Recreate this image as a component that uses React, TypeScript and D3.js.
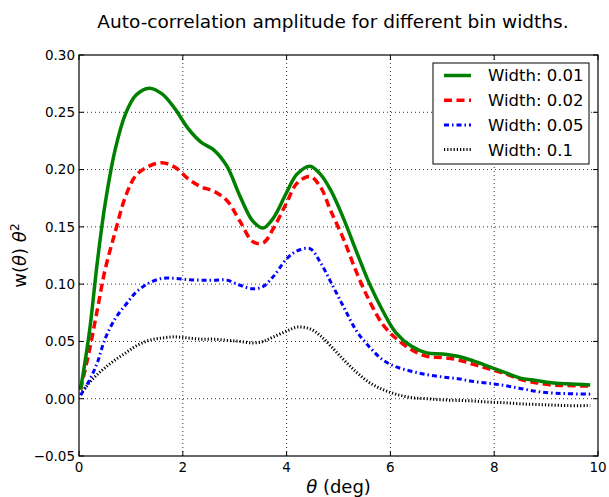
import { useEffect, useRef } from "react";
import * as d3 from "d3";

// theta grid (deg) shared by all series
const theta = [
    0.03, 0.2, 0.35, 0.5, 0.7, 0.9, 1.1, 1.35, 1.6, 1.85, 2.1, 2.35, 2.6, 2.85,
    3.1, 3.35, 3.55, 3.75, 4.0, 4.2, 4.45, 4.65, 4.85, 5.1, 5.35, 5.6, 5.85,
    6.1, 6.4, 6.7, 7.0, 7.3, 7.6, 7.9, 8.2, 8.5, 8.8, 9.1, 9.4, 9.85,
];

const width001 = [
    0.008, 0.058, 0.118, 0.169, 0.218, 0.249, 0.265, 0.271, 0.266, 0.253, 0.236,
    0.224, 0.217, 0.203, 0.177, 0.155, 0.149, 0.158, 0.18, 0.196, 0.203, 0.196,
    0.182, 0.157, 0.128, 0.1, 0.077, 0.058, 0.046, 0.04, 0.039, 0.037, 0.033,
    0.028, 0.023, 0.018, 0.016, 0.014, 0.013, 0.012,
];

const width002 = [
    0.008, 0.042, 0.077, 0.112, 0.146, 0.177, 0.195, 0.203, 0.206, 0.202, 0.192,
    0.185, 0.181, 0.173, 0.155, 0.137, 0.136, 0.149, 0.171, 0.188, 0.194, 0.185,
    0.164, 0.139, 0.11, 0.085, 0.065, 0.053, 0.043, 0.037, 0.036, 0.034, 0.03,
    0.026, 0.022, 0.017, 0.014, 0.012, 0.0115, 0.011,
];

const width005 = [
    0.003, 0.016, 0.031, 0.052, 0.07, 0.082, 0.093, 0.101, 0.105, 0.105, 0.104,
    0.1035, 0.1035, 0.1035, 0.099, 0.096, 0.098, 0.107, 0.122, 0.129, 0.131,
    0.119, 0.102, 0.08, 0.059, 0.045, 0.034, 0.028, 0.024, 0.021, 0.019, 0.0175,
    0.015, 0.0135, 0.0115, 0.009, 0.0065, 0.005, 0.0044, 0.004,
];

const width01 = [
    0.004, 0.014, 0.021, 0.027, 0.034, 0.04, 0.046, 0.051, 0.053, 0.054, 0.053,
    0.052, 0.052, 0.051, 0.05, 0.0487, 0.05, 0.054, 0.059, 0.0625, 0.061, 0.055,
    0.046, 0.034, 0.023, 0.014, 0.008, 0.004, 0.001, 0.0, -0.001, -0.0015,
    -0.002, -0.003, -0.0035, -0.0045, -0.005, -0.0055, -0.006, -0.006,
];

const seriesNames = ["Width: 0.01", "Width: 0.02", "Width: 0.05", "Width: 0.1"];
const xTicks = [0, 2, 4, 6, 8, 10];
const yTicks = [-0.05, 0.0, 0.05, 0.1, 0.15, 0.2, 0.25, 0.3];

const styles = [
    { color: "#008000", dash: "", lw: 3.5 },
    { color: "#ff0000", dash: "8,4.5", lw: 3.5 },
    { color: "#0000ff", dash: "5,3,1.5,3", lw: 3 },
    { color: "#000000", dash: "1.2,2", lw: 3 },
];

export default function App() {
    const svgRef = useRef<SVGSVGElement>(null);

    useEffect(() => {
        if (!svgRef.current) return;
        const width = 609;
        const height = 497;
        const margin = { top: 55, right: 11, bottom: 41, left: 79 };
        const font = "DejaVu Sans, sans-serif";

        const svg = d3.select(svgRef.current);
        svg.selectAll("*").remove();
        svg.attr("width", width).attr("height", height);

        const x = d3
            .scaleLinear()
            .domain([0, 10])
            .range([margin.left, width - margin.right]);
        const y = d3
            .scaleLinear()
            .domain([-0.05, 0.3])
            .range([height - margin.bottom, margin.top]);

        svg.append("rect")
            .attr("width", width)
            .attr("height", height)
            .attr("fill", "#fff");

        // grid
        const grid = svg.append("g");
        grid.selectAll(".gx")
            .data(xTicks.slice(1, -1))
            .enter()
            .append("line")
            .attr("x1", (d) => x(d))
            .attr("x2", (d) => x(d))
            .attr("y1", y(-0.05))
            .attr("y2", y(0.3))
            .attr("stroke", "#000")
            .attr("stroke-width", 0.8)
            .attr("stroke-dasharray", "1,3");
        grid.selectAll(".gy")
            .data(yTicks.slice(1, -1))
            .enter()
            .append("line")
            .attr("x1", x(0))
            .attr("x2", x(10))
            .attr("y1", (d) => y(d))
            .attr("y2", (d) => y(d))
            .attr("stroke", "#000")
            .attr("stroke-width", 0.8)
            .attr("stroke-dasharray", "1,3");

        // curves
        const allSeries = [width001, width002, width005, width01];
        const line = d3
            .line<number>()
            .x((d, i) => x(theta[i]))
            .y((d) => y(d))
            .curve(d3.curveCatmullRom.alpha(0.5));

        const plot = svg.append("g");
        // draw in reverse so green is on top
        [3, 2, 1, 0].forEach((k) => {
            plot.append("path")
                .datum(allSeries[k])
                .attr("d", line)
                .attr("fill", "none")
                .attr("stroke", styles[k].color)
                .attr("stroke-width", styles[k].lw)
                .attr("stroke-dasharray", styles[k].dash || null);
        });

        // frame
        svg.append("rect")
            .attr("x", x(0))
            .attr("y", y(0.3))
            .attr("width", x(10) - x(0))
            .attr("height", y(-0.05) - y(0.3))
            .attr("fill", "none")
            .attr("stroke", "#000")
            .attr("stroke-width", 1.2);

        // ticks (inward, all sides)
        const tk = svg.append("g").attr("stroke", "#000").attr("stroke-width", 1);
        xTicks.forEach((t) => {
            tk.append("line")
                .attr("x1", x(t)).attr("x2", x(t))
                .attr("y1", y(-0.05)).attr("y2", y(-0.05) - 5);
            tk.append("line")
                .attr("x1", x(t)).attr("x2", x(t))
                .attr("y1", y(0.3)).attr("y2", y(0.3) + 5);
        });
        yTicks.forEach((t) => {
            tk.append("line")
                .attr("x1", x(0)).attr("x2", x(0) + 5)
                .attr("y1", y(t)).attr("y2", y(t));
            tk.append("line")
                .attr("x1", x(10)).attr("x2", x(10) - 5)
                .attr("y1", y(t)).attr("y2", y(t));
        });

        // tick labels
        svg.selectAll(".xl")
            .data(xTicks)
            .enter()
            .append("text")
            .attr("x", (d) => x(d))
            .attr("y", y(-0.05) + 16)
            .attr("text-anchor", "middle")
            .style("font-family", font)
            .style("font-size", "13.5px")
            .text((d) => d3.format("d")(d));
        svg.selectAll(".yl")
            .data(yTicks)
            .enter()
            .append("text")
            .attr("x", x(0) - 4)
            .attr("y", (d) => y(d))
            .attr("dy", "0.36em")
            .attr("text-anchor", "end")
            .style("font-family", font)
            .style("font-size", "13.5px")
            .text((d) => d3.format(".2f")(d).replace("-", "\u2212"));

        // title & axis labels
        svg.append("text")
            .attr("x", 333)
            .attr("y", 28)
            .attr("text-anchor", "middle")
            .style("font-family", font)
            .style("font-size", "18.5px")
            .text("Auto-correlation amplitude for different bin widths.");

        const xl = svg.append("text")
            .attr("x", (x(0) + x(10)) / 2)
            .attr("y", 493)
            .attr("text-anchor", "middle")
            .style("font-family", font)
            .style("font-size", "18px");
        xl.append("tspan").style("font-style", "italic").text("θ");
        xl.append("tspan").text(" (deg)");

        const yl = svg.append("text")
            .attr("transform", `translate(26,${(y(0.3) + y(-0.05)) / 2}) rotate(-90)`)
            .attr("text-anchor", "middle")
            .style("font-family", font)
            .style("font-size", "18px");
        yl.append("tspan").text("w(");
        yl.append("tspan").style("font-style", "italic").text("θ");
        yl.append("tspan").text(") ");
        yl.append("tspan").style("font-style", "italic").text("θ");
        yl.append("tspan").attr("dy", -7).style("font-size", "12.5px").text("2");

        // legend
        const lg = svg.append("g").attr("transform", "translate(433,63)");
        lg.append("rect")
            .attr("width", 156)
            .attr("height", 101)
            .attr("fill", "#fff")
            .attr("stroke", "#000")
            .attr("stroke-width", 1);
        seriesNames.forEach((name, i) => {
            const cy = 12.5 + i * 24.7;
            lg.append("line")
                .attr("x1", 11)
                .attr("x2", 38)
                .attr("y1", cy)
                .attr("y2", cy)
                .attr("stroke", styles[i].color)
                .attr("stroke-width", styles[i].lw)
                .attr("stroke-dasharray", styles[i].dash || null);
            lg.append("text")
                .attr("x", 55)
                .attr("y", cy)
                .attr("dy", "0.36em")
                .style("font-family", font)
                .style("font-size", "16.5px")
                .text(name);
        });
    }, []);

    return (
        <svg
            ref={svgRef}
            style={{ position: "absolute", left: 0, top: 0, display: "block" }}
        ></svg>
    );
}
